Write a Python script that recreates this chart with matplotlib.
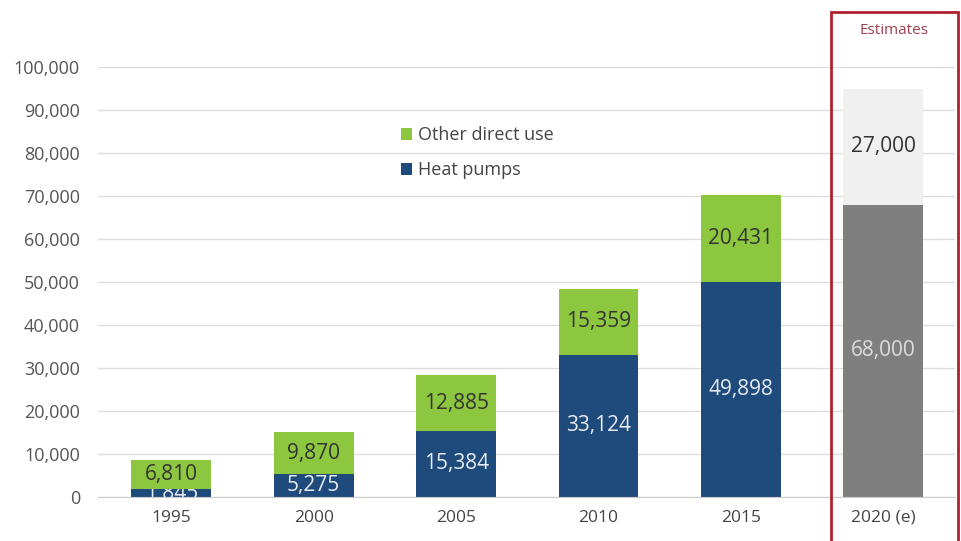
import matplotlib
matplotlib.use("Agg")
import matplotlib.pyplot as plt
from matplotlib.patches import Rectangle

# geothermal direct use capacity by year
years = ["1995", "2000", "2005", "2010", "2015"]
heat_pumps = [1845, 5275, 15384, 33124, 49898]
other_direct = [6810, 9870, 12885, 15359, 20431]

est_label = "2020 (e)"
est_heat_pumps = 68000
est_other = 27000

green = "#8dc63f"
blue = "#1f4a7c"
dark_gray = "#7f7f7f"
light_gray = "#f0f0f0"
text_col = "#555555"

plt.rcParams["font.family"] = ["Open Sans", "DejaVu Sans"]

fig = plt.figure(figsize=(9.61, 5.41), dpi=100)
ax = fig.add_axes([98 / 961, 1 - 497 / 541, 1 - 98 / 961 - 6 / 961, (497 - 67) / 541])

x = list(range(len(years)))
x_est = len(years)
w = 0.56

hp_bars = ax.bar(x, heat_pumps, width=w, color=blue, zorder=2)
ot_bars = ax.bar(x, other_direct, width=w, bottom=heat_pumps, color=green, zorder=2)
est_hp = ax.bar([x_est], [est_heat_pumps], width=w, color=dark_gray, zorder=2)
est_ot = ax.bar([x_est], [est_other], width=w, bottom=[est_heat_pumps], color=light_gray, zorder=2)

# value labels, centred in each segment
for bar, v in zip(hp_bars, heat_pumps):
    t = ax.text(bar.get_x() + w / 2, v / 2, f"{v:,}", ha="center", va="center",
                color="#e8ecf2", fontsize=15, zorder=3, clip_on=True)
    # keep the label inside its own segment (the 1995 one is too thin)
    t.set_clip_path(bar)
for bar, b, v in zip(ot_bars, heat_pumps, other_direct):
    ax.text(bar.get_x() + w / 2, b + v / 2, f"{v:,}", ha="center", va="center",
            color="#333333", fontsize=15, zorder=3)
ax.text(x_est, est_heat_pumps / 2, f"{est_heat_pumps:,}", ha="center", va="center",
        color="#dddddd", fontsize=15, zorder=3)
ax.text(x_est, est_heat_pumps + est_other / 2, f"{est_other:,}", ha="center", va="center",
        color="#333333", fontsize=15, zorder=3)

ax.set_ylim(0, 100000)
ax.set_yticks(range(0, 100001, 10000))
ax.set_yticklabels([f"{v:,}" for v in range(0, 100001, 10000)])
ax.set_xlim(-0.515, 5.503)
ax.set_xticks(x + [x_est])
ax.set_xticklabels(years + [est_label])

ax.grid(axis="y", color="#dddddd", linewidth=1, zorder=0)
for s in ["top", "right", "left"]:
    ax.spines[s].set_visible(False)
ax.spines["bottom"].set_color("#cccccc")
ax.tick_params(axis="y", length=0, pad=13, labelsize=13, labelcolor=text_col)
ax.tick_params(axis="x", length=0, pad=9, labelsize=12.5, labelcolor="#444444")

leg = ax.legend([ot_bars, hp_bars], ["Other direct use", "Heat pumps"],
                loc="upper left", bbox_to_anchor=(0.335, 0.90), frameon=False,
                fontsize=13, handlelength=0.6, handleheight=0.6,
                handletextpad=0.3, labelspacing=0.95)
for t in leg.get_texts():
    t.set_color("#444444")

# red frame around the estimate
fig.patches.append(Rectangle((831 / 961, -0.01), (958 - 831) / 961, 1 - 12 / 541 + 0.01,
                             transform=fig.transFigure, fill=False,
                             edgecolor="#b0202e", linewidth=2, zorder=5))
fig.text(894 / 961, 1 - 30 / 541, "Estimates", ha="center", va="center",
         color="#a04050", fontsize=11)

fig.savefig("out.png", dpi=100)
